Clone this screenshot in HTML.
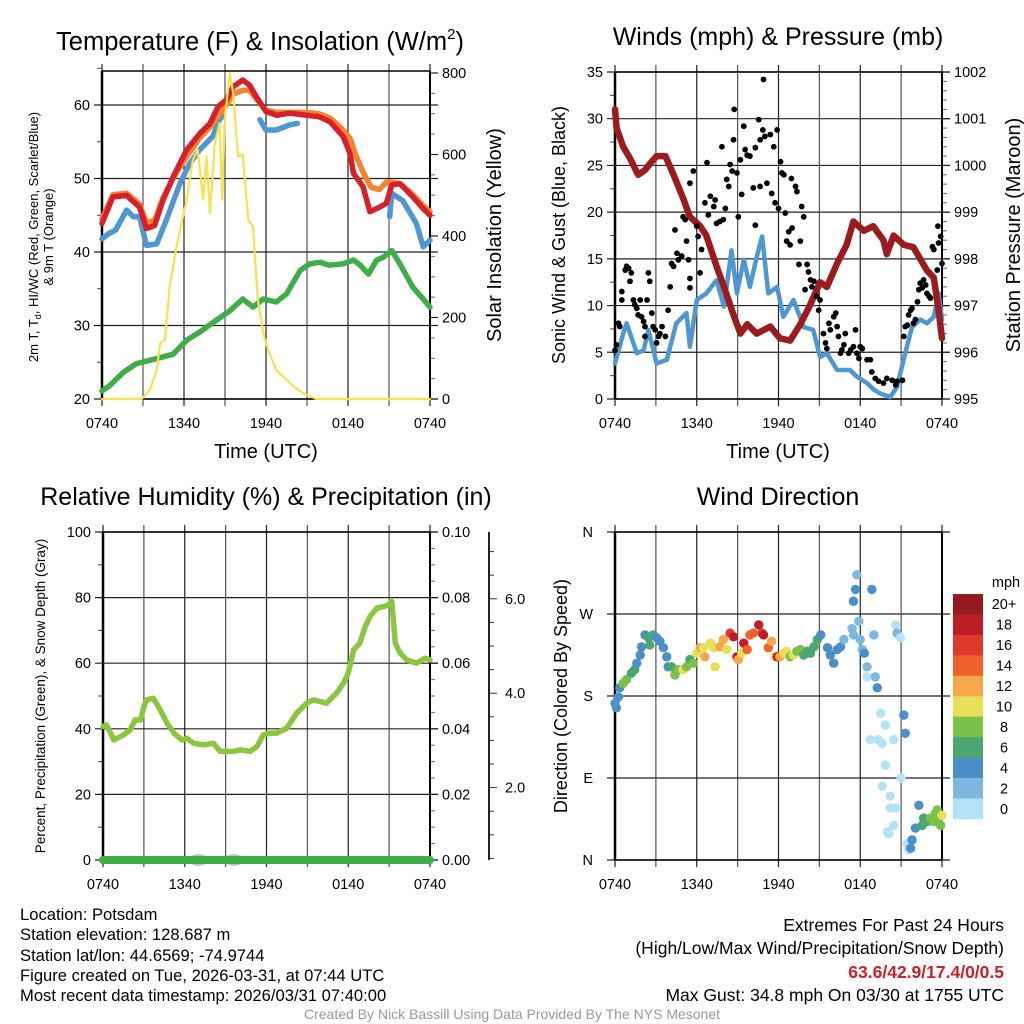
<!DOCTYPE html>
<html><head><meta charset="utf-8"><style>
html,body{margin:0;padding:0;background:#fff;}
svg{display:block;font-family:"Liberation Sans",sans-serif;}
.ft{position:absolute;font-family:"Liberation Sans Narrow","Liberation Sans",sans-serif;color:#000;}
</style></head><body>
<div style="position:relative;width:1024px;height:1024px;overflow:hidden">
<svg id="c" width="1024" height="1024" viewBox="0 0 1024 1024" xmlns="http://www.w3.org/2000/svg"></svg>
<div class="ft" style="left:20px;top:905px;font-size:16.6px;line-height:20.3px;">Location: Potsdam<br>Station elevation: 128.687 m<br>Station lat/lon: 44.6569; -74.9744<br>Figure created on Tue, 2026-03-31, at 07:44 UTC<br>Most recent data timestamp: 2026/03/31 07:40:00</div>
<div class="ft" style="right:20px;top:914px;text-align:right;font-size:17.5px;line-height:23.3px;">Extremes For Past 24 Hours<br>(High/Low/Max Wind/Precipitation/Snow Depth)<br><b style="color:#cc1f2a">63.6/42.9/17.4/0/0.5</b><br>Max Gust: 34.8 mph On 03/30 at 1755 UTC</div>
<div class="ft" style="left:0;width:1024px;top:1006px;text-align:center;color:#999;font-size:14px;">Created By Nick Bassill Using Data Provided By The NYS Mesonet</div>
</div>
<script>
// ---- Panel 1 data (hours since 0740, value) ----
const redH=[0,0.8,1.8,2.75,3.25,3.85,4.45,5.2,6.2,7.15,7.9,8.5,9.1,9.6,10.3,10.8,11.3,12,12.8,13.75,15,15.9,16.7,17.65,18.15,18.4,19.1,19.6,20.3,20.8,21.2,21.8,22.75,23.5,24];
const redT=[43.9,47.5,47.7,46.1,43.2,43.6,47.0,50.2,53.9,56.1,57.5,59.8,60.7,62.5,63.4,62.7,61.1,59.1,58.6,58.9,58.6,58.4,57.7,55.7,53.4,50.7,48.9,45.5,46.1,46.6,49.1,49.3,47.5,45.9,45.0];
const orgH=[0,0.8,1.8,2.75,3.25,3.85,4.45,5.2,6.2,7.15,7.9,8.5,9.1,9.6,10.3,10.8,11.3,12,12.8,13.75,15,15.9,16.7,17.65,18.15,18.6,19.2,19.7,20.3,20.8,21.2,21.8,22.75,23.5,24];
const orgT=[44.5,47.8,48,46.5,44,44.3,47.3,50,53,55.5,57,58.5,60,61.5,62,62,60.8,59.3,59,59,59,58.8,58.2,56.6,55.5,53,50.5,48.8,48.5,49.5,49.5,49.3,47.8,46.3,45.5];
const bluH=[0,0.5,1.0,1.8,2.3,2.75,3.25,4,4.7,5.7,6.4,7.15,8.1,8.6,8.8,null,11.55,12,12.75,13.75,14.3,null,21.05,21.2,21.5,22,23,23.5,24];
const bluT=[41.8,42.5,43,45.7,44.8,44.8,40.9,41.1,44.3,49.3,52,53.9,55.7,58,58.5,null,58,56.6,56.6,57.3,57.5,null,44.8,48,47.6,47,43.9,40.7,41.6];
const grnH=[0,0.55,1.55,2.5,4,5.2,6.2,7.15,8.35,9.35,10.3,11.05,11.8,12.75,13.5,14.5,15.2,15.95,16.65,17.65,18.4,18.9,19.5,20.1,20.6,21.2,21.8,22.75,23.5,24];
const grnT=[21.1,21.8,23.6,24.8,25.5,26.1,28,29.1,30.7,32,33.6,32.5,33.6,33.2,34.3,37.5,38.4,38.6,38.2,38.4,38.9,38.2,37,38.9,39.3,40.2,38.4,35.2,33.6,32.5];
const solH=[0,2.9,3.5,4,4.25,4.6,4.95,5.45,6.2,6.65,7.0,7.4,7.65,7.9,8.25,8.6,8.8,8.98,9.35,9.6,9.95,10.3,10.7,11.05,11.4,11.8,12.15,12.75,13.5,14.2,14.95,15.7,24];
const solW=[0,0,22,71,137,145,276,374,489,587,612,489,595,456,628,677,489,685,800,751,595,600,440,423,243,161,120,71,47,26,10,0,0];
// ---- Panel 2 data ----
const presH=[0,0.12,0.6,1.1,1.7,2.2,2.6,3.05,3.7,4.3,5.0,5.5,6.25,6.7,7.5,8.0,8.7,9.2,9.7,10.4,11.4,12.1,12.85,13.6,14.3,15.05,15.55,16.3,17.0,17.5,18.25,18.95,19.7,19.95,20.45,21.2,21.9,22.4,22.9,23.4,23.75,24];
const presV=[1001.2,1000.8,1000.4,1000.15,999.8,999.9,1000.05,1000.2,1000.2,999.8,999.3,998.9,998.7,998.5,997.8,997.4,996.8,996.4,996.6,996.4,996.55,996.3,996.25,996.6,997,997.5,997.4,997.9,998.3,998.8,998.6,998.7,998.4,998.1,998.5,998.3,998.25,998.0,997.75,997.6,996.9,996.3];
const windH=[0,0.6,0.85,1.6,2.1,2.45,3.05,3.8,4.5,5.25,5.5,6.0,6.7,7.45,8.0,8.55,8.95,9.45,9.9,10.4,10.8,11.25,11.9,12.35,13.1,13.85,14.55,15.05,15.55,16.3,17.25,17.75,18.5,19,19.45,20.2,20.7,21.3,21.8,22.4,22.9,23.4,23.75,24];
const windV=[3.8,7,8.1,4.9,5.2,7.4,3.8,4.2,8.1,9.2,5.6,10.6,11.3,12.7,9.9,15.9,11.3,14.9,12,15.2,17.4,11.3,12,8.8,10.6,7.7,7.4,4.5,4.9,3.1,3.1,2.4,1.7,1,0.6,0.2,1.3,4.9,7.7,8.5,8.1,8.8,11.3,8.5];
const gustH=[0,0.1,0.25,0.35,0.5,0.5,0.75,0.85,1.0,1.1,1.2,1.35,1.45,1.6,1.7,1.85,1.95,2.1,2.2,2.2,2.35,2.45,2.55,2.7,2.8,2.95,3.05,3.2,3.3,3.45,3.7,3.9,4.05,4.15,4.3,4.4,4.55,4.65,4.9,5.0,5.15,5.25,5.4,5.5,5.5,5.5,5.75,6.0,6.1,6.25,6.35,6.6,6.75,6.85,7.0,7.25,7.35,7.45,7.7,7.85,7.95,8.1,8.2,8.35,8.45,8.6,8.7,8.75,8.95,9.05,9.2,9.3,9.45,9.55,9.7,9.9,10.15,10.3,10.3,10.55,10.65,10.65,10.85,10.9,11.0,11.15,11.4,11.5,11.65,11.75,11.9,12.0,12.15,12.25,12.4,12.5,12.6,12.75,12.85,12.95,13.0,13.25,13.35,13.5,13.6,13.7,13.85,13.95,14.1,14.2,14.35,14.45,14.6,14.8,14.95,15.05,15.3,15.45,15.55,15.7,15.8,16.05,16.2,16.3,16.4,16.55,16.65,16.8,16.9,17.15,17.3,17.5,17.65,17.75,17.9,18.0,18.15,18.5,18.75,18.85,19.1,19.35,19.7,19.95,20.35,20.6,20.7,21.1,21.2,21.3,21.45,21.55,21.7,21.8,21.9,22.05,22.2,22.3,22.4,22.55,22.65,22.8,22.9,23.05,23.15,23.3,23.4,23.65,23.7,23.75,23.9,24.0];
const gustV=[5.2,5.8,8.1,7.75,10.6,11.5,13.8,14.2,14.0,12.6,13.5,10.6,10.1,9.7,9.0,10.6,8.8,8.3,6.7,7.75,10.6,13.5,12.6,9.2,7.75,7.4,6.0,6.7,7.0,7.75,6.7,9.5,12.0,14.5,14.2,18.1,15.6,14.9,15.3,19.5,19.2,16.9,14.9,12.9,11.9,23.1,24.4,18.5,17.4,13.5,16.0,21,25.3,19.7,21.7,20.6,21.3,18.8,19,27,19.2,20.4,23.5,22.75,25.1,24.4,27.75,31,24.2,19.5,25.6,21.9,29.2,26.7,26.1,26,22.6,18.6,26.9,29.9,27.75,22.75,28.8,34.2,28.1,23.1,28.3,22,27,21,28.8,20.4,25.4,24.2,24,19.9,16.9,17.9,16.5,23.6,18.3,22.75,22.2,14.4,16.9,20.6,19.5,11.7,14.4,13.6,12.75,12,12.6,11,9.5,10.6,7.0,6.0,5.4,8.1,7.4,8.8,9.2,7.75,6.7,4.9,5.25,5.8,7.0,4.9,5.25,5.6,7.4,4.9,4.35,5.6,5.4,4.2,4.2,2.9,2.2,1.9,1.7,2.2,2.0,1.5,1.9,2.0,6.7,7.75,7.9,9.0,9.5,9.7,8.1,8.5,10.4,11.7,12.4,11.9,12.75,12.2,11.3,11,10.8,16.3,16.0,13.8,18.5,16.7,17.4,14.5];
// ---- Panel 3 data ----
const rhH=[0,0.25,0.8,1.5,2.0,2.35,2.75,3.0,3.2,3.7,4.2,4.7,5.2,5.8,6.15,6.65,7.4,8.1,8.6,9.6,10.05,10.8,11.3,11.75,12.25,12.75,13.5,14.2,14.95,15.45,15.95,16.4,17.15,17.65,18.0,18.4,18.85,19.25,19.6,20.1,20.6,20.95,21.2,21.45,21.8,22.3,23.0,23.6,24];
const rhV=[40.7,41.2,36.6,38.1,39.7,42.7,42.7,46.8,48.8,49.3,45.8,41.7,38.7,36.6,37.1,35.6,35.1,35.6,33.1,33.1,33.6,33.1,34.6,38.1,38.7,38.7,40.2,44.8,47.8,48.8,48.3,47.8,50.9,53.9,57.0,64.1,66.1,71.2,74.3,76.8,77.3,77.8,78.8,66.1,63.1,61.0,60.0,61.5,61.0];
const precipH=[0,24];
const precipV=[0,0];
const snowH=[7.0,9.6];
const snowV=[0.5,0.5];
// ---- Panel 4 data ----
const dirH=[0,0.1,0.25,0.35,0.6,0.85,1.2,1.45,1.6,1.85,1.95,2.2,2.45,2.55,2.8,3.05,3.3,3.55,3.8,3.9,4.15,4.4,4.65,5.0,5.25,5.5,5.75,6.0,6.25,6.5,6.6,7.0,7.25,7.35,7.7,7.95,8.2,8.45,8.7,8.95,9.05,9.3,9.45,9.7,9.9,10.15,10.55,10.8,10.9,11.25,11.5,11.75,11.9,12.1,12.4,12.6,12.85,13.1,13.35,13.6,13.85,14.1,14.35,14.6,14.85,15.1,15.6,15.8,16.05,16.3,16.55,16.8,17.5,17.4,17.5,17.65,17.75,17.9,18.0,18.15,18.3,18.5,18.5,18.85,19.0,19.1,19.25,19.5,19.6,19.3,19.85,19.85,18.75,19.6,20.2,20.2,20.1,20.0,20.45,20.6,20.7,20.95,21.0,20.45,20.6,21.2,21.3,21.45,21.55,21.7,21.8,22.05,22.3,22.55,22.65,22.9,23.15,23.4,23.5,23.65,23.75,23.9,24.0];
const dirD=[172,167,179,189,194,198,205,209,216,225,234,247,244,236,247,244,240,233,223,212,212,203,209,209,212,220,216,227,233,233,223,238,233,212,234,242,231,249,245,223,220,227,238,231,247,249,258,249,247,233,240,223,223,223,227,229,223,225,229,231,225,229,227,234,242,247,233,225,216,231,234,242,247,254,284,297,313,262,242,231,227,212,201,297,247,201,189,161,128,132,148,104,132,81,70,57,29,31,132,258,249,244,90,38,57,159,139,18,11,13,22,35,60,38,46,42,46,42,51,55,42,38,49,55,62,71,66];
const dirS=[4.5,4.5,4.5,4.5,8,8,6,6,4.5,4.5,4.5,4.5,6,6,6,4.5,4.5,4.5,4.5,4.5,6,8,8,10,8,6,8,10,12,10,12,10,10,10,12,12,10,16,18,18,12,10,18,14,14,14,18,16,18,14,12,10,18,12,10,10,8,10,8,8,6,6,6,6,6,4.5,4.5,4.5,4.5,4.5,4.5,3,3,3,4.5,4.5,3,3,3,3,4.5,3,1,4.5,3,3,4.5,1,1,1,1,1,1,1,1,1,1,1,1,1,3,1,1,1,1,4.5,4.5,1,1,4.5,4.5,4.5,4.5,6,6,6,8,8,8,8,8,8,10,10,10,6,8];
const cbLabels=["20+","18","16","14","12","10","8","6","4","2","0"];
const cbColors=["#951b1e","#be1e25","#dd3a2c","#ef622c","#f6a74a","#e8de58","#7cc24a","#4aa772","#4a8fc7","#7db8e2","#b6e2f7"];

const NS="http://www.w3.org/2000/svg";
const svg=document.getElementById('c');
function mk(tag,a,p){const e=document.createElementNS(NS,tag);for(const k in a)e.setAttribute(k,a[k]);(p||svg).appendChild(e);return e;}
function txt(s,a,p){const e=mk('text',a,p);e.textContent=s;return e;}
const xLabs=["0740","1340","1940","0140","0740"];

function frame(P,name){
  const g=mk('g',{});
  
  
  const xs=h=>P.x0+(P.x1-P.x0)*h/24;
  for(let i=0;i<=8;i++){const x=xs(i*3);
    mk('line',{x1:x,x2:x,y1:P.y0-7,y2:P.y1+7,stroke:i%2?'#555':'#222','stroke-width':1.2},g);}
  for(let i=0;i<5;i++){const t=txt(xLabs[i],{x:xs(i*6),y:P.y1+29,'text-anchor':'middle','font-size':14.5},g);
    }
  return {g,xs};
}
function leftAxis(P,g,ys,maj,minr,fmt,gridOn){
  for(const v of minr){mk('line',{x1:P.x0-5,x2:P.x0,y1:ys(v),y2:ys(v),stroke:'#444','stroke-width':1},g);}
  for(const v of maj){const y=ys(v);
    if(gridOn)mk('line',{x1:P.x0-8,x2:P.x1+8,y1:y,y2:y,stroke:'#222','stroke-width':1.2},g);
    txt(fmt(v),{x:P.x0-12,y:y+5,'text-anchor':'end','font-size':14.5},g);}
}
function rightAxis(P,g,ys,maj,minr,fmt,xoff){
  const xa=P.x1+(xoff||0);
  for(const v of minr){mk('line',{x1:xa,x2:xa+5,y1:ys(v),y2:ys(v),stroke:'#666','stroke-width':1},g);}
  for(const v of maj){const y=ys(v);mk('line',{x1:xa,x2:xa+8,y1:y,y2:y,stroke:'#222','stroke-width':1.2},g);
    txt(fmt(v),{x:xa+12,y:y+5,'text-anchor':'start','font-size':14.5},g);}
}
function border(P,g){
  mk('line',{x1:P.x0,x2:P.x0,y1:P.y0,y2:P.y1,stroke:'#000','stroke-width':2.5},g);
  mk('line',{x1:P.x1,x2:P.x1,y1:P.y0,y2:P.y1,stroke:'#000','stroke-width':2},g);
  mk('line',{x1:P.x0,x2:P.x1,y1:P.y1,y2:P.y1,stroke:'#000','stroke-width':1.5},g);
  mk('line',{x1:P.x0,x2:P.x1,y1:P.y0,y2:P.y0,stroke:'#000','stroke-width':1.5},g);
}
function path(H,V,xs,ys,color,w,name){
  let d='',pen=false;
  for(let i=0;i<H.length;i++){if(H[i]===null||V[i]===null){pen=false;continue;}
    d+=(pen?'L':'M')+xs(H[i]).toFixed(1)+','+ys(V[i]).toFixed(1);pen=true;}
  const p=mk('path',{d:d,fill:'none',stroke:color,'stroke-width':w,'stroke-linejoin':'round','stroke-linecap':'round'});
  
  
  return p;
}
function title(s,x,y,name){const t=txt(s,{x:x,y:y,'text-anchor':'middle','font-size':25});
  return t;}
function vlabel(s,x,y,size,name){const t=txt(s,{x:x,y:y,'text-anchor':'middle','font-size':size,transform:`rotate(-90 ${x} ${y})`});
  return t;}
function range(a,b,s){const r=[];for(let v=a;v<=b+1e-9;v+=s)r.push(+v.toFixed(4));return r;}

// ===== Panel 1 =====
const P1={x0:102,x1:430,y0:71,y1:399};
const f1=frame(P1,'temperature-panel');
const y1L=v=>399-(v-20)*7.35, y1R=v=>399-v*0.4075;
leftAxis(P1,f1.g,y1L,[20,30,40,50,60],range(25,65,10),v=>v,true);
rightAxis(P1,f1.g,y1R,[0,200,400,600,800],range(50,750,50),v=>v);
border(P1,f1.g);
path(bluH,bluT,f1.xs,y1L,'#4f97d2',5.5,'hi-wc-line');
path(orgH,orgT,f1.xs,y1L,'#f5822f',5.5,'temp-9m-line');
path(redH,redT,f1.xs,y1L,'#d7202a',5.5,'temp-2m-line');
path(grnH,grnT,f1.xs,y1L,'#3fae49',5.5,'dewpoint-line');
path(solH,solW,f1.xs,y1R,'#f7e24d',2.2,'insolation-line');
const t1=title('Temperature (F) & Insolation (W/m',260,50,'temperature-title');
t1.setAttribute('font-size','25.5');
const sup=mk('tspan',{'font-size':15,dy:-11},t1);sup.textContent='2';
const cp=mk('tspan',{'font-size':25.5,dy:11},t1);cp.textContent=')';
const yl=txt('',{x:38,y:237,'text-anchor':'middle','font-size':13,transform:'rotate(-90 38 237)'});

yl.innerHTML='2m T, T<tspan font-size="9" dy="3">d</tspan><tspan dy="-3">, HI/WC (Red, Green, Scarlet/Blue)</tspan>';
vlabel('& 9m T (Orange)',53,237,13,'temperature-y-title-2');
vlabel('Solar Insolation (Yellow)',501,235,20,'insolation-y-title');
const xt1=txt('Time (UTC)',{x:266,y:458,'text-anchor':'middle','font-size':20});


// ===== Panel 2 =====
const P2={x0:615,x1:942,y0:72,y1:399};
const f2=frame(P2,'wind-panel');
const y2L=v=>399-v*9.343, y2R=v=>399-(v-995)*46.71;
leftAxis(P2,f2.g,y2L,[0,5,10,15,20,25,30,35],range(2.5,32.5,5),v=>v,true);
rightAxis(P2,f2.g,y2R,[995,996,997,998,999,1000,1001,1002],range(995.2,1001.8,0.2),v=>v);
border(P2,f2.g);
path(windH,windV,f2.xs,y2L,'#4f97d2',4.5,'sonic-wind-line');
path(presH,presV,f2.xs,y2R,'#9b1c1f',6.5,'pressure-line');
for(let i=0;i<gustH.length;i++){
  const c=mk('circle',{cx:f2.xs(gustH[i]),cy:y2L(gustV[i]),r:2.9,fill:'#000'});
  
  
}
title('Winds (mph) & Pressure (mb)',778,45,'wind-title');
vlabel('Sonic Wind & Gust (Blue, Black)',565,235,18,'wind-y-title');
vlabel('Station Pressure (Maroon)',1020,235,20,'pressure-y-title');
const xt2=txt('Time (UTC)',{x:778,y:458,'text-anchor':'middle','font-size':20});


// ===== Panel 3 =====
const P3={x0:103,x1:430,y0:532,y1:860};
const f3=frame(P3,'humidity-panel');
const y3L=v=>860-v*3.28, y3R=v=>860-v*3280, y3S=v=>882-v*47.2;
leftAxis(P3,f3.g,y3L,[0,20,40,60,80,100],range(10,90,20),v=>v,true);
rightAxis(P3,f3.g,y3R,[0,0.02,0.04,0.06,0.08,0.1],range(0.005,0.095,0.005),v=>v.toFixed(2));
mk('line',{x1:489,x2:489,y1:532,y2:860,stroke:'#222','stroke-width':2},f3.g);
for(const v of range(0.5,7,0.5)){const y=y3S(v);if(y<532||y>860)continue;
  const maj=Math.abs(v%2)<1e-6;
  mk('line',{x1:489,x2:maj?497:494,y1:y,y2:y,stroke:'#333','stroke-width':1},f3.g);
  if(maj)txt(v.toFixed(1),{x:505,y:y+5,'font-size':14.5},f3.g);}
border(P3,f3.g);
for(let i=0;i<snowH.length;i++){
  const e=mk('ellipse',{cx:f3.xs(snowH[i]),cy:860,rx:10,ry:6,fill:'#c8c8c8'});
  
  
}
path(precipH,precipV,f3.xs,y3R,'#3fae49',8,'precipitation-line');
path(rhH,rhV,f3.xs,y3L,'#8cc63f',5.5,'humidity-line');
title('Relative Humidity (%) & Precipitation (in)',266,505,'humidity-title');
vlabel('Percent, Precipitation (Green), & Snow Depth (Gray)',45,696,13.5,'humidity-y-title');

// ===== Panel 4 =====
const P4={x0:615,x1:942,y0:532,y1:860};
const f4=frame(P4,'direction-panel');
const y4=v=>860-v*0.9111;
const dirLab=["N","E","S","W","N"];
for(let i=0;i<5;i++){const y=y4(i*90);
  mk('line',{x1:P4.x0-8,x2:P4.x1+8,y1:y,y2:y,stroke:'#222','stroke-width':1.2},f4.g);
  txt(dirLab[i],{x:P4.x0-22,y:y+5,'text-anchor':'end','font-size':14.5},f4.g);}
border(P4,f4.g);
function spdColor(s){let k=Math.min(10,Math.floor(s/2));return cbColors[10-k];}
for(let i=0;i<dirH.length;i++){
  const c=mk('circle',{cx:f4.xs(dirH[i]),cy:y4(dirD[i]),r:4.7,fill:spdColor(dirS[i])});
  
  
}
title('Wind Direction',778,505,'direction-title');
vlabel('Direction (Colored By Speed)',567,696,18,'direction-y-title');
const cb=mk('g',{});


const bh=(819-594)/11;
for(let i=0;i<11;i++){
  mk('rect',{x:953,y:594+i*bh,width:30,height:bh+0.3,fill:cbColors[i]},cb);
  txt(cbLabels[i],{x:1004,y:594+i*bh+bh/2+5,'text-anchor':'middle','font-size':14.5},cb);
}
txt('mph',{x:1006,y:587,'text-anchor':'middle','font-size':14.5},cb);
</script>
</body></html>
